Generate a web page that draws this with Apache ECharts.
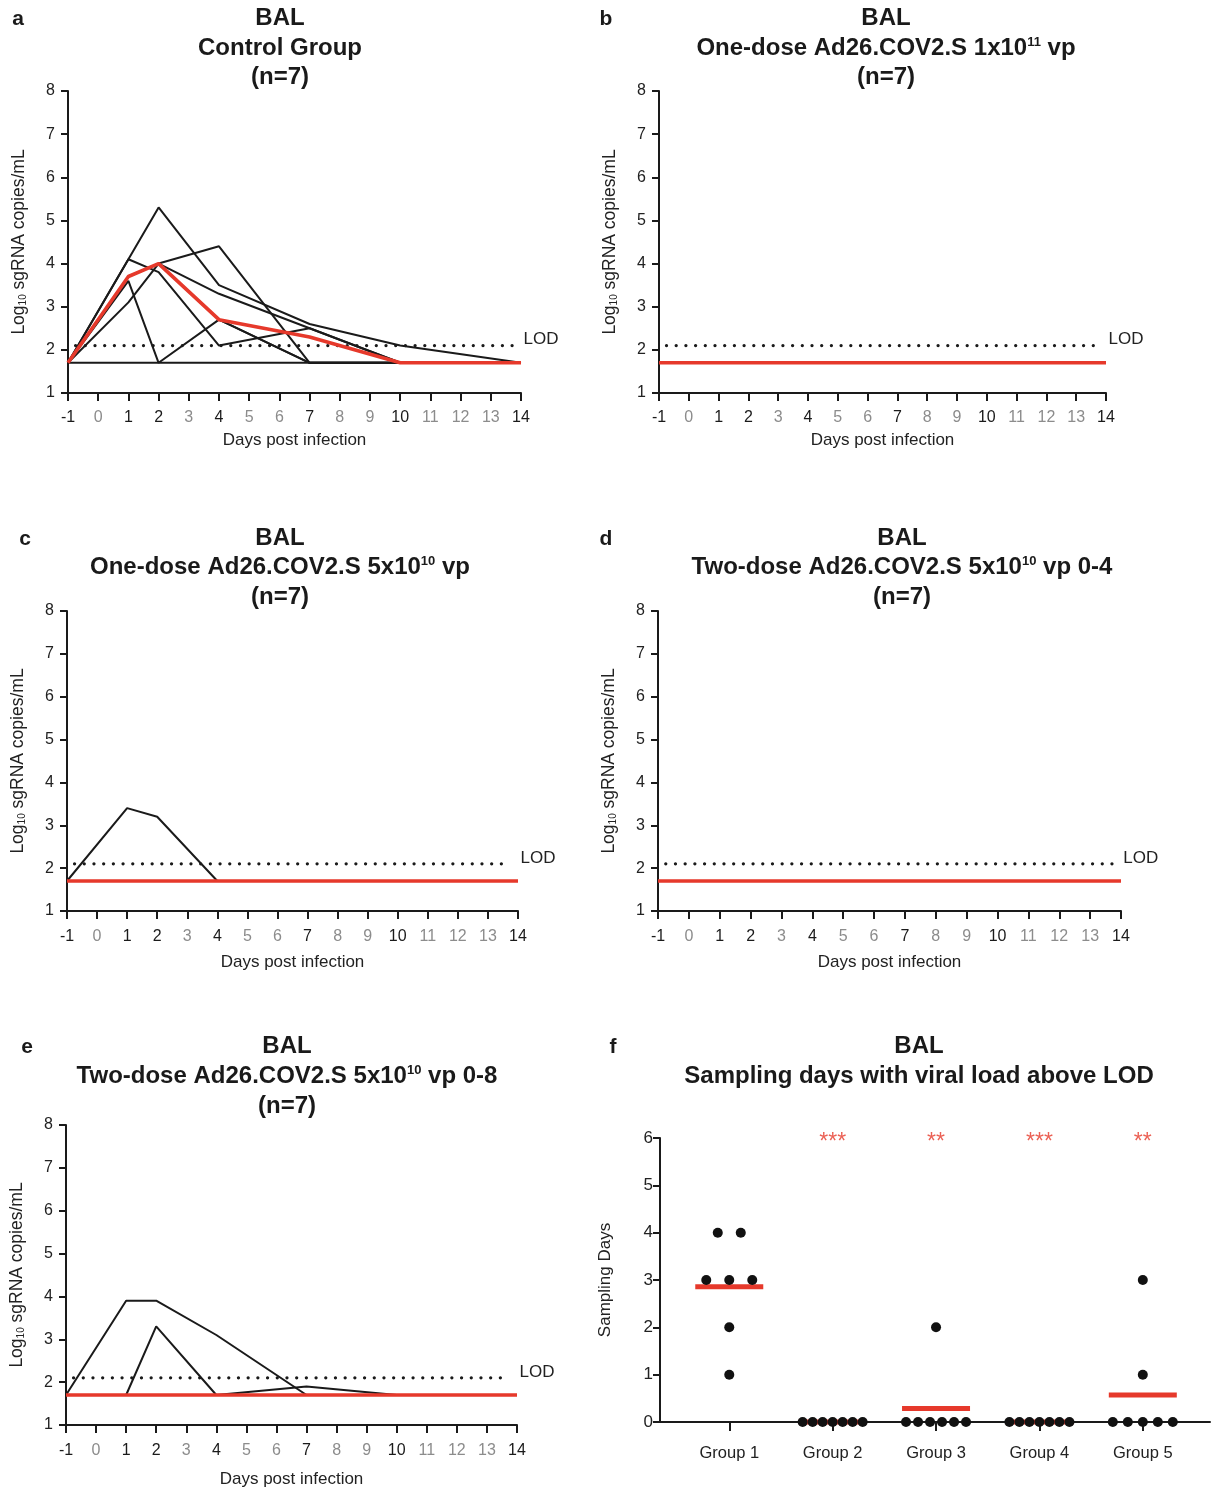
<!DOCTYPE html>
<html>
<head>
<meta charset="utf-8">
<script src="https://cdn.jsdelivr.net/npm/echarts@6/dist/echarts.min.js"></script>
<style>
  html, body { margin: 0; padding: 0; background: #fff; }
  #chart { width: 1213px; height: 1488px; }
</style>
</head>
<body>
<div id="chart"></div>
<script>
// sampling days (x) and viral loads per animal, log10 sgRNA copies/mL
const days = [-1, 1, 2, 4, 7, 10, 14]
const lod = 2.1
const lodSpan = [-0.75, 13.75]

const panelA = [
  [1.7, 4.1, 5.3, 3.5, 2.6, 2.1, 1.7],
  [1.7, 3.1, 4.0, 4.4, 1.7, 1.7, 1.7],
  [1.7, 4.1, 3.8, 2.1, 2.5, 1.7, 1.7],
  [1.7, 3.6, 1.7, 2.7, 1.7, 1.7, 1.7],
  [1.7, 3.7, 4.0, 3.3, 2.5, 1.7, 1.7],
  [1.7, 3.7, 4.0, 2.7, 1.7, 1.7, 1.7],
  [1.7, 1.7, 1.7, 1.7, 1.7, 1.7, 1.7],
]
const medianA = [1.7, 3.7, 4.0, 2.7, 2.3, 1.7, 1.7]

const panelB = [
  [1.7, 1.7, 1.7, 1.7, 1.7, 1.7, 1.7],
  [1.7, 1.7, 1.7, 1.7, 1.7, 1.7, 1.7],
  [1.7, 1.7, 1.7, 1.7, 1.7, 1.7, 1.7],
  [1.7, 1.7, 1.7, 1.7, 1.7, 1.7, 1.7],
  [1.7, 1.7, 1.7, 1.7, 1.7, 1.7, 1.7],
  [1.7, 1.7, 1.7, 1.7, 1.7, 1.7, 1.7],
  [1.7, 1.7, 1.7, 1.7, 1.7, 1.7, 1.7],
]
const medianB = [1.7, 1.7, 1.7, 1.7, 1.7, 1.7, 1.7]

const panelC = [
  [1.7, 3.4, 3.2, 1.7, 1.7, 1.7, 1.7],
  [1.7, 1.7, 1.7, 1.7, 1.7, 1.7, 1.7],
  [1.7, 1.7, 1.7, 1.7, 1.7, 1.7, 1.7],
  [1.7, 1.7, 1.7, 1.7, 1.7, 1.7, 1.7],
  [1.7, 1.7, 1.7, 1.7, 1.7, 1.7, 1.7],
  [1.7, 1.7, 1.7, 1.7, 1.7, 1.7, 1.7],
  [1.7, 1.7, 1.7, 1.7, 1.7, 1.7, 1.7],
]
const medianC = [1.7, 1.7, 1.7, 1.7, 1.7, 1.7, 1.7]

const panelD = [
  [1.7, 1.7, 1.7, 1.7, 1.7, 1.7, 1.7],
  [1.7, 1.7, 1.7, 1.7, 1.7, 1.7, 1.7],
  [1.7, 1.7, 1.7, 1.7, 1.7, 1.7, 1.7],
  [1.7, 1.7, 1.7, 1.7, 1.7, 1.7, 1.7],
  [1.7, 1.7, 1.7, 1.7, 1.7, 1.7, 1.7],
  [1.7, 1.7, 1.7, 1.7, 1.7, 1.7, 1.7],
  [1.7, 1.7, 1.7, 1.7, 1.7, 1.7, 1.7],
]
const medianD = [1.7, 1.7, 1.7, 1.7, 1.7, 1.7, 1.7]

const panelE = [
  [1.7, 3.9, 3.9, 3.1, 1.7, 1.7, 1.7],
  [1.7, 1.7, 3.3, 1.7, 1.9, 1.7, 1.7],
  [1.7, 1.7, 1.7, 1.7, 1.7, 1.7, 1.7],
  [1.7, 1.7, 1.7, 1.7, 1.7, 1.7, 1.7],
  [1.7, 1.7, 1.7, 1.7, 1.7, 1.7, 1.7],
  [1.7, 1.7, 1.7, 1.7, 1.7, 1.7, 1.7],
  [1.7, 1.7, 1.7, 1.7, 1.7, 1.7, 1.7],
]
const medianE = [1.7, 1.7, 1.7, 1.7, 1.7, 1.7, 1.7]

// panel f: sampling days above LOD per animal
const groupNames = ['Group 1', 'Group 2', 'Group 3', 'Group 4', 'Group 5']
const group1 = [4, 4, 3, 3, 3, 2, 1]
const group2 = [0, 0, 0, 0, 0, 0, 0]
const group3 = [2, 0, 0, 0, 0, 0, 0]
const group4 = [0, 0, 0, 0, 0, 0, 0]
const group5 = [3, 1, 0, 0, 0, 0, 0]
const stars = ['', '***', '**', '***', '**']

const FONT = 'Liberation Sans, Arial, Helvetica, sans-serif'
const INK = '#1a1a1a'
const RED = '#e6392b'

const chart = echarts.init(document.getElementById('chart'))

// === line panels a-e ===
const linePanels = [
  { animals: panelA, median: medianA, grid: { left: 68, top: 91, width: 453, height: 302 }, labelGap: 17, nameGap: 39 },
  { animals: panelB, median: medianB, grid: { left: 659, top: 91, width: 447, height: 302 }, labelGap: 17, nameGap: 39 },
  { animals: panelC, median: medianC, grid: { left: 67, top: 611, width: 451, height: 300 }, labelGap: 18, nameGap: 43 },
  { animals: panelD, median: medianD, grid: { left: 658, top: 611, width: 463, height: 300 }, labelGap: 18, nameGap: 43 },
  { animals: panelE, median: medianE, grid: { left: 66, top: 1125, width: 451, height: 300 }, labelGap: 18, nameGap: 46 },
]

const grids = []
const xAxes = []
const yAxes = []
const series = []

const tickColor = (v) => (days.includes(Number(v)) ? INK : '#8c8c8c')

linePanels.forEach((p, i) => {
  grids.push({ ...p.grid, outerBoundsMode: 'none', containLabel: false })
  xAxes.push({
    gridIndex: i,
    type: 'value',
    min: -1,
    max: 14,
    interval: 1,
    splitLine: { show: false },
    axisLine: { onZero: false, lineStyle: { color: INK, width: 2 } },
    axisTick: { length: 8, lineStyle: { color: INK, width: 2 } },
    axisLabel: { fontSize: 16, margin: p.labelGap, color: tickColor, fontFamily: FONT },
    name: 'Days post infection',
    nameLocation: 'middle',
    nameGap: p.nameGap,
    nameTextStyle: { fontSize: 17, color: '#222', fontFamily: FONT },
  })
  yAxes.push({
    gridIndex: i,
    type: 'value',
    min: 1,
    max: 8,
    interval: 1,
    splitLine: { show: false },
    axisLine: { show: true, onZero: false, lineStyle: { color: INK, width: 2 } },
    axisTick: { show: true, length: 7, lineStyle: { color: INK, width: 2 } },
    axisLabel: { fontSize: 16, margin: 13, color: '#222', fontFamily: FONT },
    name: '{n|Log}{s|10}{n| sgRNA copies/mL}',
    nameLocation: 'middle',
    nameGap: 40,
    nameRotate: 90,
    nameTextStyle: {
      color: '#222',
      fontFamily: FONT,
      rich: {
        n: { fontSize: 17.5, color: '#222', fontFamily: FONT },
        s: { fontSize: 10, color: '#222', fontFamily: FONT, verticalAlign: 'bottom', padding: [7, 0, 0, 0] },
      },
    },
  })

  series.push({
    type: 'line',
    xAxisIndex: i,
    yAxisIndex: i,
    data: [[lodSpan[0], lod], [lodSpan[1], lod]],
    symbol: 'none',
    silent: true,
    lineStyle: { color: INK, width: 3.2, type: [0.1, 9.6], cap: 'round' },
    endLabel: { show: true, formatter: 'LOD', fontSize: 17, color: '#222', fontFamily: FONT, distance: 10, offset: [0, -6] },
    z: 1,
  })
  p.animals.forEach((vals) => {
    series.push({
      type: 'line',
      xAxisIndex: i,
      yAxisIndex: i,
      data: days.map((d, j) => [d, vals[j]]),
      symbol: 'none',
      silent: true,
      lineStyle: { color: INK, width: 2 },
      z: 2,
    })
  })
  series.push({
    type: 'line',
    xAxisIndex: i,
    yAxisIndex: i,
    data: days.map((d, j) => [d, p.median[j]]),
    symbol: 'none',
    silent: true,
    lineStyle: { color: RED, width: 3.6 },
    z: 3,
  })
})

// === panel f ===
const fi = linePanels.length
const fGrid = { left: 660, top: 1138, width: 550, height: 284 }
const fMin = 0.33
const fMax = 5.65
const unitPx = fGrid.width / (fMax - fMin)
grids.push({ ...fGrid, outerBoundsMode: 'none', containLabel: false })
xAxes.push({
  gridIndex: fi,
  type: 'value',
  min: fMin,
  max: fMax,
  splitLine: { show: false },
  axisLine: { onZero: false, lineStyle: { color: INK, width: 2 } },
  axisTick: { length: 9, customValues: [1, 2, 3, 4, 5], lineStyle: { color: INK, width: 2 } },
  axisLabel: {
    customValues: [1, 2, 3, 4, 5],
    formatter: (v) => groupNames[Math.round(v) - 1],
    fontSize: 16.5,
    margin: 23,
    color: '#222',
    fontFamily: FONT,
  },
})
yAxes.push({
  gridIndex: fi,
  type: 'value',
  min: 0,
  max: 6,
  interval: 1,
  splitLine: { show: false },
  axisLine: { show: true, onZero: false, lineStyle: { color: INK, width: 2 } },
  axisTick: { show: true, length: 7, lineStyle: { color: INK, width: 2 } },
  axisLabel: { fontSize: 17, margin: 7, color: '#222', fontFamily: FONT },
  name: 'Sampling Days',
  nameLocation: 'middle',
  nameGap: 46,
  nameRotate: 90,
  nameTextStyle: { fontSize: 17, color: '#222', fontFamily: FONT },
})

const groups = [group1, group2, group3, group4, group5]

// spread equal values side by side, like a scatter dot plot
function swarm(vals, g) {
  const counts = {}
  vals.forEach((v) => (counts[v] = (counts[v] || 0) + 1))
  const seen = {}
  return vals.map((v) => {
    const n = counts[v]
    const k = seen[v] || 0
    seen[v] = k + 1
    const step = n > 1 ? Math.min(23, 60 / (n - 1)) : 0
    return [g + ((k - (n - 1) / 2) * step) / unitPx, v]
  })
}

series.push({
  type: 'scatter',
  xAxisIndex: fi,
  yAxisIndex: fi,
  data: groups.map((vals, i) => [i + 1, vals.reduce((a, b) => a + b, 0) / vals.length]),
  symbol: 'rect',
  symbolSize: [68, 5],
  itemStyle: { color: RED, opacity: 1 },
  silent: true,
  z: 2,
})
series.push({
  type: 'scatter',
  xAxisIndex: fi,
  yAxisIndex: fi,
  data: groups.flatMap((vals, i) => swarm(vals, i + 1)),
  symbol: 'circle',
  symbolSize: 10,
  itemStyle: { color: '#111', opacity: 1 },
  silent: true,
  z: 3,
})
series.push({
  type: 'scatter',
  xAxisIndex: fi,
  yAxisIndex: fi,
  data: groupNames.map((_, i) => [i + 1, 6]),
  symbolSize: 1,
  itemStyle: { color: 'rgba(0,0,0,0)' },
  label: {
    show: true,
    position: 'inside',
    formatter: (p) => stars[p.dataIndex],
    color: RED,
    fontSize: 23,
    fontFamily: FONT,
    offset: [0, 5],
  },
  silent: true,
  z: 4,
})

// === titles ===
const supRich = {
  sup: { fontSize: 13, fontWeight: 'bold', color: '#1a1a1a', fontFamily: FONT, verticalAlign: 'top', padding: [0, 0, 9, 0] },
}
const titleLines = [
  ['BAL', 280, 18], ['Control Group', 280, 48], ['(n=7)', 280, 77],
  ['BAL', 886, 18], ['One-dose Ad26.COV2.S 1x10{sup|11} vp', 886, 48], ['(n=7)', 886, 77],
  ['BAL', 280, 538], ['One-dose Ad26.COV2.S 5x10{sup|10} vp', 280, 567], ['(n=7)', 280, 597],
  ['BAL', 902, 538], ['Two-dose Ad26.COV2.S 5x10{sup|10} vp 0-4', 902, 567], ['(n=7)', 902, 597],
  ['BAL', 287, 1046], ['Two-dose Ad26.COV2.S 5x10{sup|10} vp 0-8', 287, 1076], ['(n=7)', 287, 1106],
  ['BAL', 919, 1046], ['Sampling days with viral load above LOD', 919, 1076],
]
const letters = [['a', 18, 18], ['b', 606, 18], ['c', 25, 538], ['d', 606, 538], ['e', 27, 1046], ['f', 613, 1046]]

const titles = titleLines.map(([t, x, y]) => ({
  text: t,
  left: x,
  top: y - 12,
  textAlign: 'center',
  padding: 0,
  textStyle: { fontSize: 24, fontWeight: 'bold', color: '#1a1a1a', fontFamily: FONT, rich: supRich },
})).concat(letters.map(([t, x, y]) => ({
  text: t,
  left: x,
  top: y - 9,
  textAlign: 'center',
  padding: 0,
  textStyle: { fontSize: 21, fontWeight: 'bold', color: '#1a1a1a', fontFamily: FONT },
})))

chart.setOption({
  animation: false,
  backgroundColor: '#fff',
  textStyle: { fontFamily: FONT },
  title: titles,
  grid: grids,
  xAxis: xAxes,
  yAxis: yAxes,
  series,
})
</script>
</body>
</html>
